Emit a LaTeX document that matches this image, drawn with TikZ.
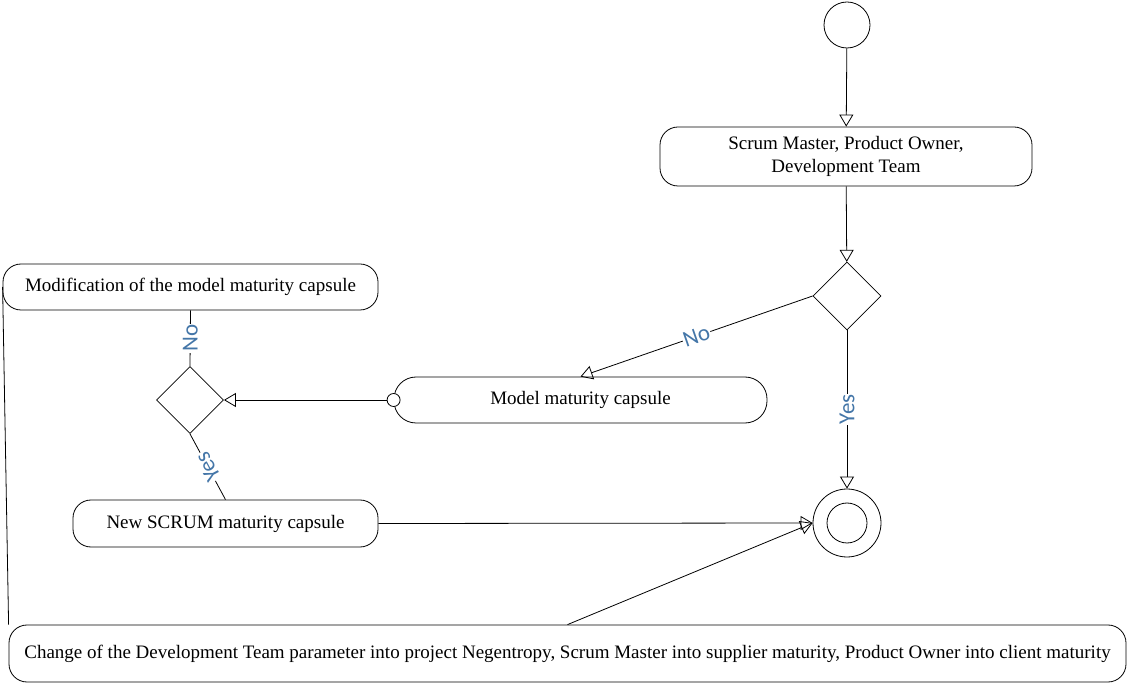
\documentclass[tikz,border=0pt]{standalone}
\usepackage{fontspec}
\setmainfont{Liberation Serif}
\newfontfamily\labelfont{Carlito}
\usetikzlibrary{shapes.geometric,arrows.meta}
\definecolor{labelblue}{RGB}{68,118,168}

\begin{document}
\begin{tikzpicture}[x=1pt,y=-1pt,
  every path/.style={line width=0.8pt},
  act/.style={draw,rounded corners=18pt,inner sep=0pt,align=center,font=\fontsize{19}{23}\selectfont},
  dec/.style={draw,diamond,aspect=1,minimum size=68pt,inner sep=0pt},
  arr/.style={-{Triangle[open,length=12pt,width=14pt]}},
  lbl/.style={fill=white,inner sep=1pt,text=labelblue,font=\labelfont\fontsize{23}{23}\selectfont}]
  \useasboundingbox (0,0) rectangle (1128,684);

  % start and first activity
  \node[draw,circle,minimum size=46pt,inner sep=0pt] (start) at (847,25) {};
  \node[act,minimum width=372pt,minimum height=59pt] (team) at (846,156.5)
    {Scrum Master, Product Owner,\\ Development Team};
  \node[dec] (check) at (847,296) {};

  \node[act,rounded corners=22pt,minimum width=373pt,minimum height=46pt] (model) at (580.5,400)
    {Model maturity capsule};
  \node[draw,circle,fill=white,minimum size=13pt,inner sep=0pt] (modelin) at (model.west) {};
  \node[dec,minimum size=67pt] (choice) at (190,400) {};

  \node[act,minimum width=375pt,minimum height=46pt] (modif) at (190.5,287)
    {Modification of the model maturity capsule};
  \node[act,minimum width=305pt,minimum height=47pt] (scrum) at (225.5,523.5)
    {New SCRUM maturity capsule};

  % end state
  \node[draw,circle,minimum size=68pt,inner sep=0pt] (final) at (847,523) {};
  \node[draw,circle,minimum size=40pt,inner sep=0pt] (finalin) at (final) {};

  \node[act,minimum width=1117pt,minimum height=57pt] (change) at (567.5,653.5)
    {Change of the Development Team parameter into project Negentropy, Scrum Master into supplier maturity, Product Owner into client maturity};

  \draw[arr] (start) -- (team);
  \draw[arr] (team) -- (check);
  \draw[arr] (check.west) -- node[lbl,sloped]{No} (model.north);
  \draw[arr] (check.south) -- node[lbl,rotate=90]{Yes} (final.north);
  \draw[arr] (modelin.west) -- (choice.east);
  \draw (choice.north) -- node[lbl,rotate=90]{No} (modif.south);
  \draw (choice.south) -- node[lbl,rotate=118]{Yes} (scrum.north);
  \draw[arr] (scrum.east) -- (final.west);
  \draw[arr] (change.north) -- (final.west);
  \draw (modif.west) -- (change.north west);

\end{tikzpicture}
\end{document}
